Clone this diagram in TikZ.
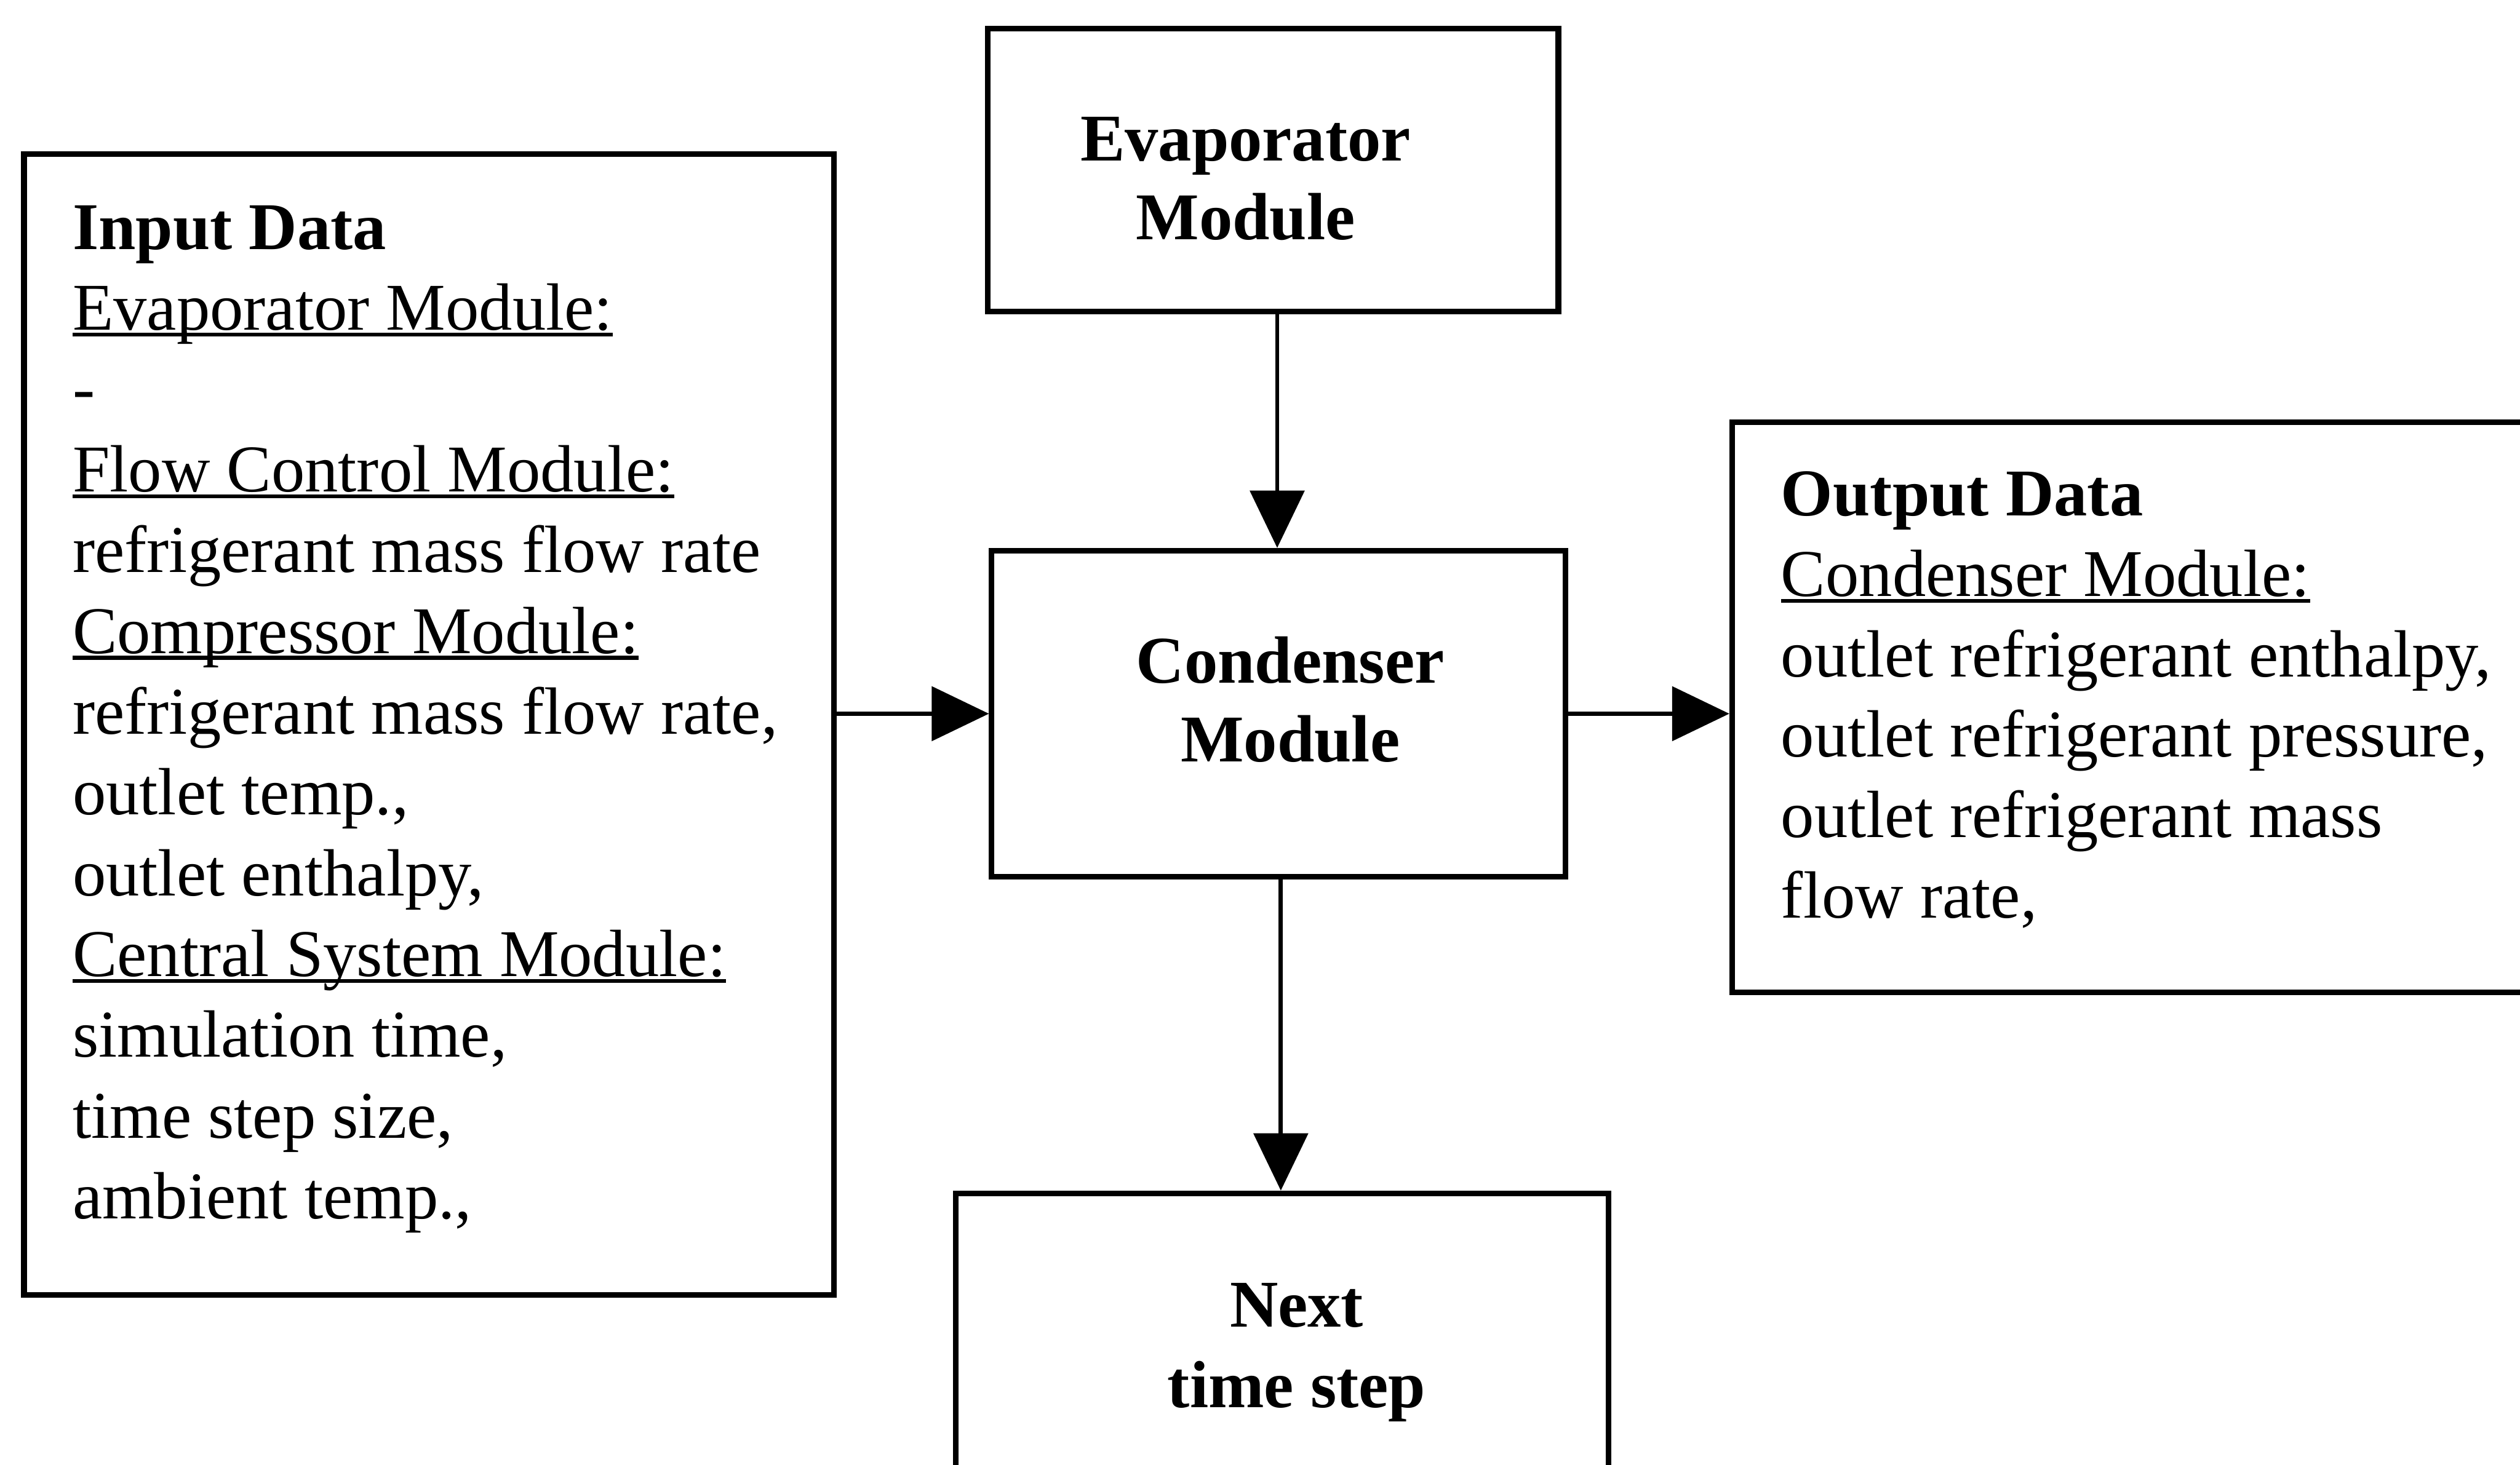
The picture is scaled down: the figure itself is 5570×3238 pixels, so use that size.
\documentclass[tikz,border=0pt]{standalone}
\usepackage{fontspec}
\setmainfont{Liberation Serif}
\usetikzlibrary{arrows.meta}
\newcommand\myul[1]{\setbox0\hbox{#1}\rlap{\rule[-0.1em]{\wd0}{0.06em}}\box0}
\newcommand\leftlines[2]{\vtop{\baselineskip=#1\lineskiplimit=-100pt\halign{##\hfil\cr #2\crcr}}}
\newcommand\centerlines[2]{\vtop{\baselineskip=#1\lineskiplimit=-100pt\halign{\hfil##\hfil\cr #2\crcr}}}
\tikzset{
  boxnode/.style={draw=black, line width=3.5pt, rectangle, inner sep=0pt},
  txt/.style={inner sep=0pt},
  arr/.style={line width=2.6pt, -{Triangle[width=34pt,length=36pt]}},
}
\begin{document}
\begin{tikzpicture}[x=0.01cm, y=-0.01cm, font=\fontsize{42pt}{50.8pt}\selectfont]
\useasboundingbox (0,0) rectangle (5570,3238);
\fill[white] (0,0) rectangle (5570,3238);
\clip (0,0) rectangle (5570,3238);
% boxes
\node[boxnode, minimum width=1790*0.01cm, minimum height=2522*0.01cm] (input) at (948,1602) {};
\node[boxnode, minimum width=1261*0.01cm, minimum height=625*0.01cm] (evap) at (2814,376) {};
\node[boxnode, minimum width=1268*0.01cm, minimum height=721*0.01cm] (cond) at (2826,1578) {};
\node[boxnode, minimum width=1871*0.01cm, minimum height=1261*0.01cm] (output) at (4764,1564) {};
\node[boxnode, minimum width=1443*0.01cm, minimum height=761*0.01cm] (next) at (2834,3019) {};
% texts
\node[txt, anchor=base west] (intext) at (160,551) {\leftlines{50.8pt}{%
\textbf{Input Data}\cr
\myul{Evaporator Module:}\cr
-\cr
\myul{Flow Control Module:}\cr
refrigerant mass flow rate\cr
\myul{Compressor Module:}\cr
refrigerant mass flow rate,\cr
outlet temp.,\cr
outlet enthalpy,\cr
\myul{Central System Module:}\cr
simulation time,\cr
time step size,\cr
ambient temp.,}};
\node[txt, anchor=base west] (outtext) at (3936,1140) {\leftlines{50.6pt}{%
\textbf{Output Data}\cr
\myul{Condenser Module:}\cr
outlet refrigerant enthalpy,\cr
outlet refrigerant pressure,\cr
outlet refrigerant mass\cr
flow rate,}};
\node[txt, anchor=base] (evaptext) at (2753,355) {\centerlines{49.5pt}{\textbf{Evaporator}\cr \textbf{Module}}};
\node[txt, anchor=base] (condtext) at (2852,1510) {\centerlines{49.5pt}{\textbf{Condenser}\cr \textbf{Module}}};
\node[txt, anchor=base] (nexttext) at (2866,2934) {\centerlines{50.6pt}{\textbf{Next}\cr \textbf{time step}}};
% connectors
\coordinate (e1) at ([xshift=0.09cm]evap.south);
\coordinate (c1) at ([xshift=0.05cm]cond.south);
\draw[arr] (e1) -- (e1 |- cond.north);
\draw[arr] (input.east |- cond.west) -- (cond.west);
\draw[arr] (cond.east) -- (cond.east -| output.west);
\draw[arr] (c1) -- (c1 |- next.north);
\end{tikzpicture}
\end{document}
